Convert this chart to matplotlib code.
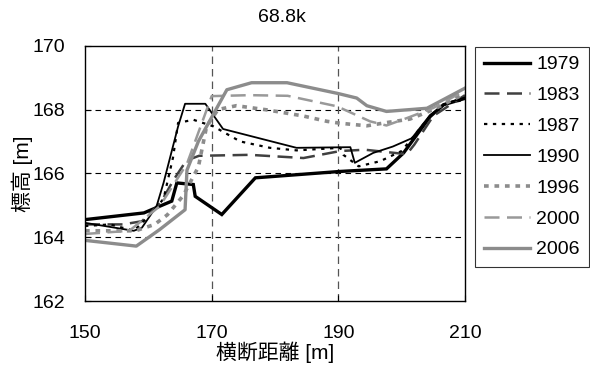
import matplotlib
matplotlib.use("Agg")
import matplotlib.pyplot as plt

plt.rcParams['font.family'] = ['Liberation Sans', 'Noto Sans CJK JP', 'DejaVu Sans']

# cross-section surveys at 68.8k (distance [m], elevation [m])
x_1979 = [150, 159.3, 163.7, 164.5, 167.1, 167.4, 171.6, 176.9, 190.3, 197.6, 200.3, 204.5, 206.6, 210]
z_1979 = [164.55, 164.76, 165.13, 165.7, 165.65, 165.28, 164.71, 165.86, 166.06, 166.14, 166.64, 167.78, 168.15, 168.35]

x_1983 = [150, 156, 159, 162, 164, 166, 168, 176, 184.5, 190.3, 194.2, 200.8, 202, 205, 210]
z_1983 = [164.4, 164.4, 164.5, 165.1, 165.8, 166.4, 166.55, 166.58, 166.48, 166.7, 166.74, 166.6, 166.9, 167.8, 168.45]

x_1987 = [150, 154, 157.7, 159.8, 162.4, 163.9, 164.7, 167.1, 170.3, 174.5, 179.2, 183.4, 190.3, 190.8, 193.2, 196.6, 200, 204.5, 207, 210]
z_1987 = [164.35, 164.4, 164.2, 164.6, 165.2, 166.5, 167.58, 167.68, 167.47, 167.0, 166.8, 166.72, 166.8, 166.58, 166.22, 166.38, 166.7, 167.8, 168.2, 168.3]

x_1990 = [150, 157.7, 159, 161.3, 162.4, 164.7, 165.8, 169, 171.8, 183.4, 191.9, 192.6, 195.5, 198.6, 201.6, 204.5, 207.1, 210]
z_1990 = [164.45, 164.2, 164.3, 164.97, 165.7, 167.47, 168.18, 168.18, 167.39, 166.8, 166.82, 166.33, 166.64, 166.84, 167.1, 167.83, 168.2, 168.38]

x_1996 = [150, 154, 158, 161, 163, 165.5, 167.9, 169.2, 171, 173.9, 178.7, 184.4, 188.2, 190.3, 194.5, 197.9, 201.3, 205, 210]
z_1996 = [164.2, 164.2, 164.2, 164.4, 164.7, 165.3, 166.2, 167.47, 168.0, 168.12, 167.99, 167.8, 167.63, 167.57, 167.49, 167.6, 167.7, 168.0, 168.5]

x_2000 = [150, 157, 161.8, 166.1, 170, 176, 182, 189.8, 195, 197.6, 200.8, 205, 210]
z_2000 = [164.1, 164.2, 164.97, 166.3, 168.42, 168.45, 168.43, 168.1, 167.63, 167.5, 167.73, 168.05, 168.6]

x_2006 = [150, 158.1, 161.8, 165.8, 166.1, 167.9, 172.4, 176.3, 181.9, 190, 192.9, 194.5, 197.6, 204, 210]
z_2006 = [163.9, 163.72, 164.24, 164.86, 166.1, 167.0, 168.62, 168.84, 168.84, 168.5, 168.36, 168.12, 167.94, 168.04, 168.67]

years = ['1979', '1983', '1987', '1990', '1996', '2000', '2006']
x_ticks = [150, 170, 190, 210]
y_ticks = [162, 164, 166, 168, 170]

fig = plt.figure(figsize=(5.9, 3.74), dpi=100)
ax = fig.add_axes([85 / 590, 1 - 301 / 374, 380 / 590, (301 - 45.7) / 374])

ax.plot(x_1979, z_1979, color='black', lw=2.4, solid_joinstyle='miter', label=years[0])
ax.plot(x_1983, z_1983, color='#404040', lw=1.8, dashes=(6, 3), label=years[1])
ax.plot(x_1987, z_1987, color='black', lw=1.6, dashes=(1.5, 2.5), label=years[2])
ax.plot(x_1990, z_1990, color='black', lw=1.3, label=years[3])
ax.plot(x_1996, z_1996, color='#8c8c8c', lw=2.6, dashes=(1.3, 1.6), label=years[4])
ax.plot(x_2000, z_2000, color='#999999', lw=1.8, dashes=(6, 3), label=years[5])
ax.plot(x_2006, z_2006, color='#8c8c8c', lw=2.4, label=years[6])

ax.set_xlim(150, 210)
ax.set_ylim(162, 170)
ax.set_xticks(x_ticks)
ax.set_yticks(y_ticks)
ax.tick_params(direction='in', length=4, labelsize=14, width=0.8)
ax.tick_params(axis='x', pad=17)
ax.tick_params(axis='y', pad=14)

for v in [164, 166, 168]:
    ax.axhline(v, color='black', lw=0.8, dashes=(5, 4), zorder=0)
for v in [170, 190]:
    ax.axvline(v, color='#555555', lw=0.9, dashes=(6, 4), zorder=0)

for s in ax.spines.values():
    s.set_linewidth(1.0)

ax.set_xlabel('横断距離 [m]', fontsize=15, labelpad=0)
ax.set_ylabel('標高 [m]', fontsize=15, labelpad=0)
fig.text(282 / 590, 1 - 17 / 374, '68.8k', fontsize=14, ha='center', va='center')

leg = fig.legend(loc='upper left', bbox_to_anchor=(475 / 590, 1 - 47 / 374),
                 fontsize=14, frameon=True, fancybox=False, edgecolor='black',
                 handlelength=2.4, handletextpad=0.3, labelspacing=0.68,
                 borderaxespad=0, borderpad=0.45)
leg.get_frame().set_linewidth(0.8)

fig.savefig('out.png', dpi=100)
